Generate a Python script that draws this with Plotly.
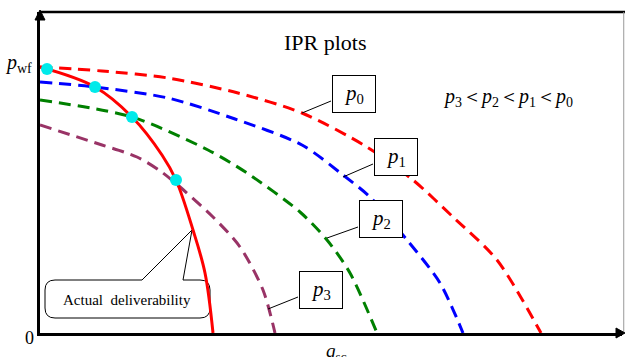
import plotly.graph_objects as go

# IPR curves (q_sc, p_wf)
q_p0 = [0, 1.24, 2.56, 3.96, 5.24, 6.54, 7.46, 8.26, 9.14, 10.02]
p_p0 = [26.6, 26.2, 25.5, 24.0, 22.0, 18.6, 15.3, 11.6, 7.3, 0]

q_p1 = [0, 1.1, 2.56, 3.9, 5.24, 6.06, 6.6, 7.34, 8.0, 8.46]
p_p1 = [25.1, 24.6, 23.5, 21.4, 18.8, 15.8, 13.6, 9.3, 5.0, 0]

q_p2 = [0, 1.84, 3.36, 4.14, 5.2, 5.74, 6.2, 6.74]
p_p2 = [23.3, 21.6, 18.3, 16.0, 12.1, 9.3, 6.0, 0]

q_p3 = [0, 1.24, 1.94, 2.46, 3.46, 4.0, 4.46, 4.7]
p_p3 = [20.8, 18.8, 17.6, 16.0, 11.6, 8.6, 4.3, 0]

q_actual = [0, 1.1, 1.84, 2.44, 2.72, 3.06, 3.3, 3.46]
p_actual = [26.6, 24.6, 21.6, 17.8, 15.3, 10.3, 6.0, 0]

q_dots = [0.14, 1.1, 1.84, 2.72]
p_dots = [26.4, 24.6, 21.6, 15.3]

SERIF = "Times New Roman, Liberation Serif, serif"

fig = go.Figure()
dash = "12px,7px"
for q, p, c in [(q_p0, p_p0, "#ff0000"), (q_p1, p_p1, "#0000ff"),
                (q_p2, p_p2, "#008000"), (q_p3, p_p3, "#993366")]:
    fig.add_trace(go.Scatter(x=q, y=p, mode="lines", line=dict(color=c, width=3, dash=dash, shape="spline", smoothing=0.8),
                             cliponaxis=False, showlegend=False, hoverinfo="skip"))
fig.add_trace(go.Scatter(x=q_actual, y=p_actual, mode="lines", line=dict(color="#ff0000", width=3, shape="spline", smoothing=1.0),
                         cliponaxis=False, showlegend=False, hoverinfo="skip"))
fig.add_trace(go.Scatter(x=q_dots, y=p_dots, mode="markers", marker=dict(color="#00eaea", size=12, line=dict(width=0)),
                         cliponaxis=False, showlegend=False, hoverinfo="skip"))

shapes = []
# frame: top thick line and right thin line
shapes.append(dict(type="line", xref="paper", yref="paper", x0=0, x1=1.006, y0=1, y1=1, line=dict(color="black", width=2.5)))
shapes.append(dict(type="line", xref="paper", yref="paper", x0=1.003, x1=1.003, y0=0, y1=1, line=dict(color="#999999", width=1)))
# arrowheads
shapes.append(dict(type="path", xref="paper", yref="paper", xsizemode="pixel", ysizemode="pixel", xanchor=0, yanchor=1,
                   path="M -5,-8 L 5,-8 L 0,2 Z", fillcolor="black", line=dict(color="black", width=1)))
shapes.append(dict(type="path", xref="paper", yref="paper", xsizemode="pixel", ysizemode="pixel", xanchor=1, yanchor=0,
                   path="M -6,5 L -6,-5 L 3,0 Z", fillcolor="black", line=dict(color="black", width=1)))
# label pointer lines
for (x0, y0, x1, y1) in [(5.24, 22.0, 5.82, 23.2), (6.06, 15.6, 6.66, 16.9), (5.74, 9.5, 6.36, 10.6), (4.56, 2.4, 5.16, 3.6)]:
    shapes.append(dict(type="line", x0=x0, y0=y0, x1=x1, y1=y1, line=dict(color="black", width=1)))
# callout box for actual deliverability
callout = ("M 0.3,5.3 L 2.04,5.3 L 3.04,10.3 L 2.86,5.3 L 3.2,5.3 Q 3.4,5.3 3.4,4.3 L 3.4,2.5 "
           "Q 3.4,1.5 3.2,1.5 L 0.3,1.5 Q 0.1,1.5 0.1,2.5 L 0.1,4.3 Q 0.1,5.3 0.3,5.3 Z")
shapes.append(dict(type="path", path=callout, fillcolor="white", line=dict(color="black", width=1), layer="below"))

annotations = []
def box(x, y, n):
    return dict(x=x, y=y, text=f"<i>p</i><sub>{n}</sub>", showarrow=False, font=dict(family=SERIF, size=21, color="black"),
                bordercolor="black", borderwidth=1, bgcolor="white", width=42, height=36, borderpad=0)
annotations += [box(6.28, 23.95, 0), box(7.11, 17.6, 1), box(6.81, 11.45, 2), box(5.61, 4.3, 3)]
annotations.append(dict(x=1.74, y=3.3, text="Actual  deliverability", showarrow=False,
                        font=dict(family=SERIF, size=15, color="black")))
annotations.append(dict(x=5.7, y=29.1, text="IPR plots", showarrow=False, font=dict(family=SERIF, size=22, color="black")))
annotations.append(dict(x=9.35, y=23.6, text="<i>p</i><sub>3</sub>＜<i>p</i><sub>2</sub>＜<i>p</i><sub>1</sub>＜<i>p</i><sub>0</sub>",
                        showarrow=False, font=dict(family=SERIF, size=20, color="black")))
annotations.append(dict(xref="paper", x=0, y=27.0, xanchor="right", xshift=-6, text="<i>p</i><sub>wf</sub>", showarrow=False,
                        font=dict(family=SERIF, size=20, color="black")))
annotations.append(dict(xref="paper", x=0, y=0, xanchor="right", yanchor="middle", xshift=-4, yshift=-5, text="0", showarrow=False,
                        font=dict(family=SERIF, size=18, color="black")))
annotations.append(dict(x=5.92, y=0, yanchor="top", yshift=-5, text="<i>q</i><sub>sc</sub>", showarrow=False,
                        font=dict(family=SERIF, size=19, color="black")))

fig.update_layout(
    width=625, height=357,
    margin=dict(l=40, r=3, t=12, b=24),
    paper_bgcolor="white", plot_bgcolor="white",
    shapes=shapes, annotations=annotations,
    xaxis=dict(range=[0, 11.64], showgrid=False, zeroline=False, showticklabels=False, ticks="",
               showline=True, linecolor="black", linewidth=3, fixedrange=True),
    yaxis=dict(range=[0, 32.1], showgrid=False, zeroline=False, showticklabels=False, ticks="",
               showline=True, linecolor="black", linewidth=3, fixedrange=True),
)
fig.write_html("out.html", config={"displayModeBar": False})
